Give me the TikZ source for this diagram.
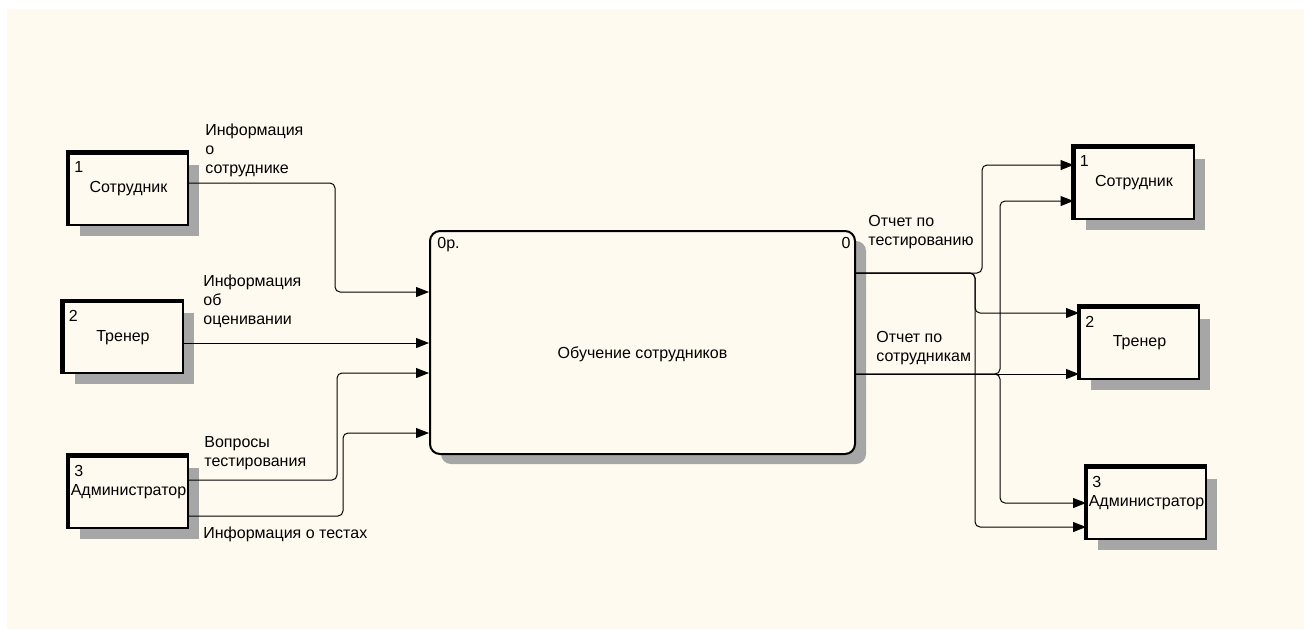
\documentclass[tikz,border=0pt]{standalone}
\usepackage{fontspec}
\setmainfont{Liberation Sans}
\usepackage{tikz}
\usetikzlibrary{positioning,arrows.meta,shadows}
\definecolor{paper}{HTML}{FFFAF0}

\begin{document}
\begin{tikzpicture}[x=0.5pt, y=-0.5pt, font=\fontsize{8}{9.5}\selectfont,
    extbox/.style={draw, line width=1pt, fill=paper, inner sep=0pt,
      minimum width=59.5pt, minimum height=35.5pt,
      drop shadow={shadow xshift=5.5pt, shadow yshift=-5.5pt, fill=black!35, opacity=1}},
    procbox/.style={draw, line width=1pt, fill=paper, rounded corners=5pt,
      minimum width=212.5pt, minimum height=111.5pt,
      drop shadow={shadow xshift=5.5pt, shadow yshift=-5pt, fill=black!35, opacity=1}},
    num/.style={anchor=north west, inner sep=0pt, xshift=3pt, yshift=-4.5pt},
    flow/.style={line width=0.5pt, rounded corners=2.5pt,
      -{Triangle[length=6.5pt, width=5pt]}},
    lbl/.style={anchor=north west, inner sep=0pt, align=left}]
    \useasboundingbox (0,0) rectangle (1304,629);
    \fill[paper] (7,9) rectangle (1304,629);

    % external entities
    \node[extbox, label={[num]north west:1}] (s1) at (128.5,189) {Сотрудник};
    \node[extbox, label={[num]north west:2}] (s2) at (123,337.5) {Тренер};
    \node[extbox, label={[num]north west:3}] (s3) at (128.5,492) {Администратор};
    \node[extbox, label={[num]north west:1}] (r1) at (1134,183) {Сотрудник};
    \node[extbox, label={[num]north west:2}] (r2) at (1139.5,343) {Тренер};
    \node[extbox, label={[num]north west:3}] (r3) at (1146.5,503) {Администратор};
    \foreach \n in {s1,s2,s3,r1,r2,r3}{
      \draw[line width=2.2pt] (\n.south west) -- (\n.north west) -- (\n.north east);
    }

    % process
    \node[procbox,
      label={[anchor=north west, inner sep=0pt, xshift=4pt, yshift=-3.5pt]north west:0р.},
      label={[anchor=north east, inner sep=0pt, xshift=-2.5pt, yshift=-3.5pt]north east:0},
      label={[yshift=-6pt]center:Обучение сотрудников}] (proc) at (642.5,342.5) {};

    % inputs
    \draw[flow] (s1.east |- 0,183) -| (335,292) -- (proc.west |- 0,292);
    \draw[flow] (s2.east |- 0,343) -- (proc.west |- 0,343);
    \draw[flow] (s3.east |- 0,480) -| (337,373) -- (proc.west |- 0,373);
    \draw[flow] (s3.east |- 0,516) -| (343,433) -- (proc.west |- 0,433);

    % outputs
    \draw[flow] (proc.east |- 0,273) -| (982,165) -- (r1.west |- 0,165);
    \draw[flow] (proc.east |- 0,273) -| (975,313) -- (r2.west |- 0,313);
    \draw[flow] (proc.east |- 0,273) -| (975,527) -- (r3.west |- 0,527);
    \draw[flow] (proc.east |- 0,374) -| (1000,201) -- (r1.west |- 0,201);
    \draw[flow] (proc.east |- 0,374) -- (r2.west |- 0,374);
    \draw[flow] (proc.east |- 0,374) -| (1000,503) -- (r3.west |- 0,503);

    % flow labels
    \node[lbl] (infoemp)  at (205,123) {Информация\\о\\сотруднике};
    \node[lbl] (infoeval) at (203,274) {Информация\\об\\оценивании};
    \node[lbl] (quest)    at (204,436) {Вопросы\\тестирования};
    \node[lbl] (infotest) at (203,526) {Информация о тестах};
    \node[lbl] (reptest)  at (868,215) {Отчет по\\тестированию};
    \node[lbl] (repemp)   at (876,331) {Отчет по\\сотрудникам};
  \end{tikzpicture}
\end{document}
